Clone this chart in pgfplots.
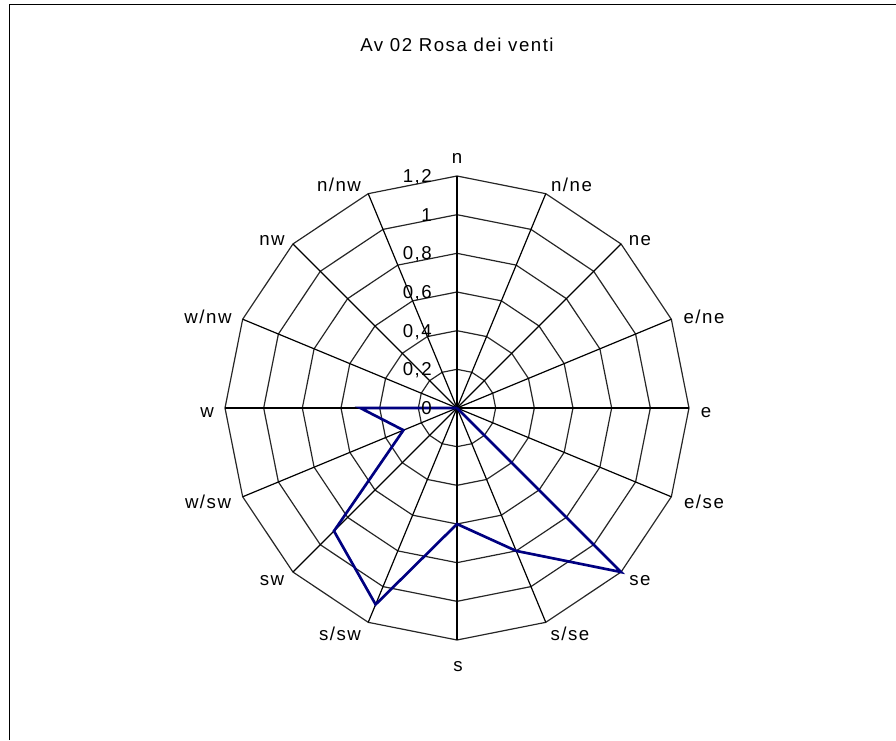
\documentclass[border=0pt]{standalone}
\usepackage{fontspec}
\setmainfont{Liberation Sans}[LetterSpace=8]
\usepackage{pgfplots}
\pgfplotsset{compat=1.18}
\usepgfplotslibrary{polar}
\definecolor{serie}{RGB}{0,0,128}
\begin{document}
\begin{tikzpicture}[x=0.75pt,y=0.75pt,every node/.style={font=\fontsize{14}{16}\selectfont,inner sep=0pt}]
% page in px, y up (740 px high)
\path[use as bounding box] (0,0) rectangle (896,740);
\draw[line width=0.9pt] (9.3,0) -- (9.3,735.7) -- (896,735.7);
\node at (457,695.5) {Av 02 Rosa dei venti};

\begin{polaraxis}[
    at={(342.75pt,249pt)}, anchor=center,
    scale only axis, width=348pt, height=348pt,
    hide axis, clip=false,
    xmin=0, xmax=360, ymin=0, ymax=1.2,
]
% rings (polygons)
\addplot[black!85, line width=0.9pt] coordinates {(0,0.2)(22.5,0.2)(45,0.2)(67.5,0.2)(90,0.2)(112.5,0.2)(135,0.2)(157.5,0.2)(180,0.2)(202.5,0.2)(225,0.2)(247.5,0.2)(270,0.2)(292.5,0.2)(315,0.2)(337.5,0.2)(360,0.2)};
\addplot[black!85, line width=0.9pt] coordinates {(0,0.4)(22.5,0.4)(45,0.4)(67.5,0.4)(90,0.4)(112.5,0.4)(135,0.4)(157.5,0.4)(180,0.4)(202.5,0.4)(225,0.4)(247.5,0.4)(270,0.4)(292.5,0.4)(315,0.4)(337.5,0.4)(360,0.4)};
\addplot[black!85, line width=0.9pt] coordinates {(0,0.6)(22.5,0.6)(45,0.6)(67.5,0.6)(90,0.6)(112.5,0.6)(135,0.6)(157.5,0.6)(180,0.6)(202.5,0.6)(225,0.6)(247.5,0.6)(270,0.6)(292.5,0.6)(315,0.6)(337.5,0.6)(360,0.6)};
\addplot[black!85, line width=0.9pt] coordinates {(0,0.8)(22.5,0.8)(45,0.8)(67.5,0.8)(90,0.8)(112.5,0.8)(135,0.8)(157.5,0.8)(180,0.8)(202.5,0.8)(225,0.8)(247.5,0.8)(270,0.8)(292.5,0.8)(315,0.8)(337.5,0.8)(360,0.8)};
\addplot[black!85, line width=0.9pt] coordinates {(0,1.0)(22.5,1.0)(45,1.0)(67.5,1.0)(90,1.0)(112.5,1.0)(135,1.0)(157.5,1.0)(180,1.0)(202.5,1.0)(225,1.0)(247.5,1.0)(270,1.0)(292.5,1.0)(315,1.0)(337.5,1.0)(360,1.0)};
\addplot[black!85, line width=0.9pt] coordinates {(0,1.2)(22.5,1.2)(45,1.2)(67.5,1.2)(90,1.2)(112.5,1.2)(135,1.2)(157.5,1.2)(180,1.2)(202.5,1.2)(225,1.2)(247.5,1.2)(270,1.2)(292.5,1.2)(315,1.2)(337.5,1.2)(360,1.2)};
% spokes (diameters)
\addplot[black, line width=0.9pt] coordinates {(22.5,1.2)(202.5,1.2)};
\addplot[black, line width=0.9pt] coordinates {(45,1.2)(225,1.2)};
\addplot[black, line width=0.9pt] coordinates {(67.5,1.2)(247.5,1.2)};
\addplot[black, line width=0.9pt] coordinates {(90,1.2)(270,1.2)};
\addplot[black, line width=0.9pt] coordinates {(112.5,1.2)(292.5,1.2)};
\addplot[black, line width=0.9pt] coordinates {(135,1.2)(315,1.2)};
\addplot[black, line width=0.9pt] coordinates {(157.5,1.2)(337.5,1.2)};
\addplot[black, line width=1.6pt] coordinates {(0,1.2)(180,1.2)};
% series: n, n/ne, ne, e/ne, e, e/se, se, s/se, s, s/sw, sw, w/sw, w, w/nw, nw, n/nw
\addplot[serie, line width=2pt, line join=miter] coordinates {
    (90,0) (67.5,0) (45,0) (22.5,0) (0,0) (337.5,0) (315,1.2) (292.5,0.8)
    (270,0.6) (247.5,1.1) (225,0.9) (202.5,0.3) (180,0.5) (157.5,0)
    (135,0) (112.5,0) (90,0)
};
\end{polaraxis}

% value labels along the north spoke
\foreach \v/\t in {0/0,0.2/{0,2},0.4/{0,4},0.6/{0,6},0.8/{0,8},1.0/1,1.2/{1,2}}
    \node[anchor=base east] at (432,{332+\v*193.33-6.5}) {\t};

% direction labels
\node[anchor=base] at (457,{740-164}) {n};
\node[anchor=base] at (571.5,{740-192}) {n/ne};
\node[anchor=base] at (640,{740-246}) {ne};
\node[anchor=base] at (704,{740-324}) {e/ne};
\node[anchor=base] at (706,{740-417}) {e};
\node[anchor=base] at (704,{740-508}) {e/se};
\node[anchor=base] at (640,{740-585}) {se};
\node[anchor=base] at (570,{740-640}) {s/se};
\node[anchor=base] at (458,{740-671}) {s};
\node[anchor=base] at (340,{740-640}) {s/sw};
\node[anchor=base] at (272,{740-585}) {sw};
\node[anchor=base] at (208,{740-508}) {w/sw};
\node[anchor=base] at (207,{740-417}) {w};
\node[anchor=base] at (208,{740-324}) {w/nw};
\node[anchor=base] at (272,{740-246}) {nw};
\node[anchor=base] at (339,{740-192}) {n/nw};
\end{tikzpicture}
\end{document}
